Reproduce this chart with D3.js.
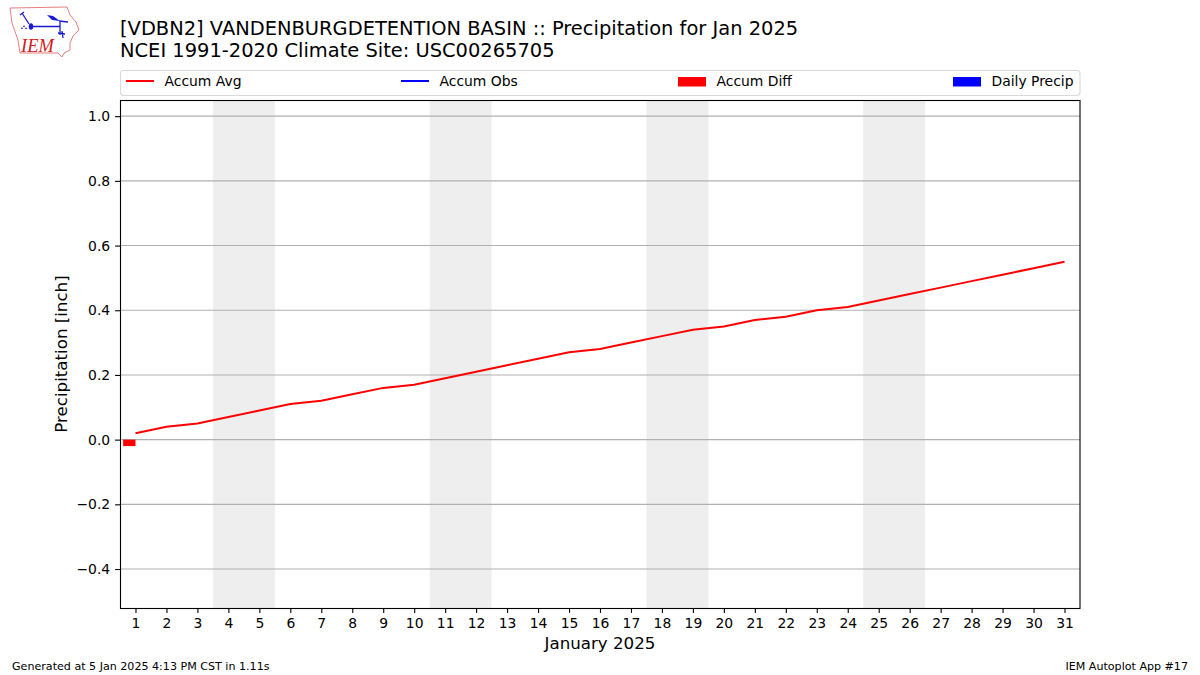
<!DOCTYPE html>
<html lang="en">
<head>
<meta charset="UTF-8">
<title>Precipitation</title>
<script src="https://cdn.jsdelivr.net/npm/d3@7"></script>
<style>
    body { margin: 0; background: #fff; }
    text { font-family: "DejaVu Sans", sans-serif; }
</style>
</head>
<body>
<div id="chart"></div>
<script>
    const days = d3.range(1, 32);
    const accumAvg = [0.02, 0.04, 0.05, 0.07, 0.09, 0.11, 0.12, 0.14, 0.16, 0.17, 0.19,
        0.21, 0.23, 0.25, 0.27, 0.28, 0.30, 0.32, 0.34, 0.35, 0.37, 0.38, 0.40, 0.41,
        0.43, 0.45, 0.47, 0.49, 0.51, 0.53, 0.55];
    const accumDiff = [{day: 1, value: -0.02}];
    const weekends = [[3.5, 5.5], [10.5, 12.5], [17.5, 19.5], [24.5, 26.5]];
    const yTicks = [-0.4, -0.2, 0, 0.2, 0.4, 0.6, 0.8, 1.0];
    const legendItems = ["Accum Avg", "Accum Obs", "Accum Diff", "Daily Precip"];
    const titleLines = ["[VDBN2] VANDENBURGDETENTION BASIN :: Precipitation for Jan 2025",
        "NCEI 1991-2020 Climate Site: USC00265705"];

    const width = 1200, height = 675;
    const plotLeft = 120, plotRight = 1080, plotTop = 100, plotBottom = 608;

    const svg = d3.select("#chart").append("svg")
        .attr("width", width)
        .attr("height", height)
        .style("display", "block");

    const x = d3.scaleLinear().domain([0.5, 31.5]).range([plotLeft, plotRight]);
    const y = d3.scaleLinear().domain([-0.5205, 1.05]).range([plotBottom, plotTop]);

    // weekend bands
    svg.selectAll("rect.band").data(weekends).join("rect")
        .attr("class", "band")
        .attr("x", d => x(d[0]))
        .attr("width", d => x(d[1]) - x(d[0]))
        .attr("y", plotTop)
        .attr("height", plotBottom - plotTop)
        .attr("fill", "#eeeeee");

    // grid lines
    svg.selectAll("line.grid").data(yTicks).join("line")
        .attr("class", "grid")
        .attr("x1", plotLeft)
        .attr("x2", plotRight)
        .attr("y1", d => y(d))
        .attr("y2", d => y(d))
        .attr("stroke", "#b0b0b0")
        .attr("stroke-width", 1.1);

    // accum diff bars sit to the left of the day
    const barW = x(1.4) - x(1);
    svg.selectAll("rect.diff").data(accumDiff).join("rect")
        .attr("class", "diff")
        .attr("x", d => x(d.day) - barW)
        .attr("width", barW)
        .attr("y", d => y(Math.max(0, d.value)))
        .attr("height", d => Math.abs(y(d.value) - y(0)))
        .attr("fill", "#ff0000");

    const line = d3.line().x((d, i) => x(days[i])).y(d => y(d));
    svg.append("path")
        .attr("d", line(accumAvg))
        .attr("fill", "none")
        .attr("stroke", "#ff0000")
        .attr("stroke-width", 2);

    // axes
    const xAxis = d3.axisBottom(x).tickValues(days).tickFormat(d3.format("d")).tickSize(4.9).tickPadding(4.9);
    const yAxis = d3.axisLeft(y).tickValues(yTicks)
        .tickFormat(d => d3.format(".1f")(d).replace("-", "\u2212")).tickSize(4.9).tickPadding(4.9);

    const gx = svg.append("g").attr("transform", `translate(0,${plotBottom})`).call(xAxis);
    const gy = svg.append("g").attr("transform", `translate(${plotLeft},0)`).call(yAxis);
    [gx, gy].forEach(g => {
        g.select(".domain").remove();
        g.selectAll("text").attr("font-size", 13.9).attr("fill", "#000")
            .style("font-family", '"DejaVu Sans", sans-serif');
        g.selectAll("line").attr("stroke", "#000").attr("stroke-width", 1.1);
    });

    // frame
    svg.append("rect")
        .attr("x", plotLeft + 0.5).attr("y", plotTop + 0.5)
        .attr("width", plotRight - plotLeft - 0.5).attr("height", plotBottom - plotTop)
        .attr("fill", "none")
        .attr("stroke", "#000")
        .attr("stroke-width", 1.1);

    // titles
    svg.selectAll("text.title").data(titleLines).join("text")
        .attr("class", "title")
        .attr("x", 120)
        .attr("y", (d, i) => 35 + i * 22)
        .attr("font-size", 19.45)
        .text(d => d);

    svg.append("text")
        .attr("x", 600).attr("y", 649)
        .attr("text-anchor", "middle")
        .attr("font-size", 16.67)
        .text("January 2025");

    svg.append("text")
        .attr("transform", `translate(67,354) rotate(-90)`)
        .attr("text-anchor", "middle")
        .attr("font-size", 16.67)
        .text("Precipitation [inch]");

    // legend
    const legend = svg.append("g");
    legend.append("rect")
        .attr("x", 120.5).attr("y", 70.5)
        .attr("width", 959.5).attr("height", 25)
        .attr("rx", 3)
        .attr("fill", "#fff")
        .attr("stroke", "#d9d9d9")
        .attr("stroke-width", 1.1);

    const legendSwatchX = [126, 401, 678, 953];
    legendItems.forEach((name, i) => {
        const sx = legendSwatchX[i];
        if (i < 2) {
            legend.append("line")
                .attr("x1", sx).attr("x2", sx + 28)
                .attr("y1", 81).attr("y2", 81)
                .attr("stroke", i == 0 ? "#ff0000" : "#0000ff")
                .attr("stroke-width", 2);
        } else {
            legend.append("rect")
                .attr("x", sx).attr("y", 77)
                .attr("width", 28).attr("height", 9.5)
                .attr("fill", i == 2 ? "#ff0000" : "#0000ff");
        }
        legend.append("text")
            .attr("x", sx + 38.5).attr("y", 86)
            .attr("font-size", 13.9)
            .text(name);
    });

    // footer
    svg.append("text")
        .attr("x", 12).attr("y", 670)
        .attr("font-size", 11.1)
        .text("Generated at 5 Jan 2025 4:13 PM CST in 1.11s");
    svg.append("text")
        .attr("x", 1188).attr("y", 670)
        .attr("text-anchor", "end")
        .attr("font-size", 11.1)
        .text("IEM Autoplot App #17");

    // IEM logo
    const logo = svg.append("g");
    logo.append("path")
        .attr("d", "M10,8 L67,7 L70,15 L76,22 L79,30 L73,36 L70,43 L70,50 L64,53 L62,57 L58,53 L20,53 L18,40 L12,23 Z")
        .attr("fill", "#fff")
        .attr("stroke", "#e58080")
        .attr("stroke-width", 1);
    logo.append("path")
        .attr("d", "M31,26.5 L60,26.5 M60,21 L60,35 M59,21 L68,22 M22,13 L29,24 M20,15 L24,12 M62,31 L63,38 M58,33 L65,34")
        .attr("fill", "none")
        .attr("stroke", "#1a1ad0")
        .attr("stroke-width", 1.3);
    logo.append("ellipse")
        .attr("cx", 31).attr("cy", 26.5).attr("rx", 2.2).attr("ry", 3.2)
        .attr("fill", "#1a1ad0");
    logo.append("path")
        .attr("d", "M47,15 L53,16 L60,21 L52,20 Z")
        .attr("fill", "#1a1ad0");
    logo.append("path")
        .attr("d", "M24,25 L25,27 L23,27 Z M26,27 L27,29 L25,29 Z M22,27 L23,29 L21,29 Z")
        .attr("fill", "#1a1ad0");
    logo.append("text")
        .attr("x", 21).attr("y", 51.5)
        .attr("font-size", 18.5)
        .attr("font-style", "italic")
        .attr("fill", "#d02020")
        .style("font-family", '"Liberation Serif", serif')
        .text("IEM");
</script>
</body>
</html>
